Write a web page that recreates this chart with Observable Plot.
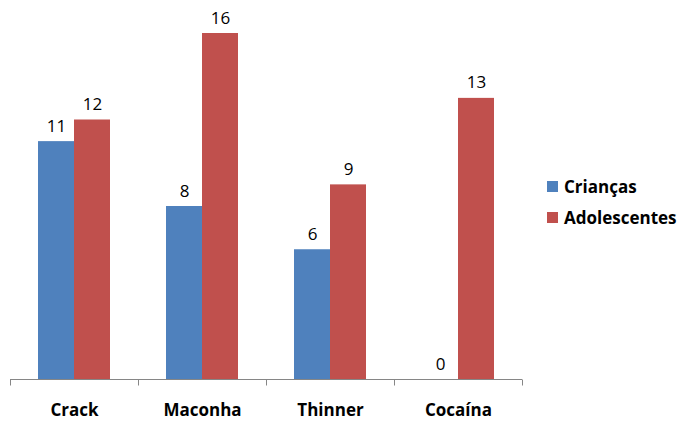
<!DOCTYPE html>
<html><head><meta charset="utf-8">
<script src="https://cdn.jsdelivr.net/npm/d3@7"></script>
<script src="https://cdn.jsdelivr.net/npm/@observablehq/plot@0.6"></script>
<style>
body{margin:0;background:#fff;font-family:"Open Sans",Lato,sans-serif;}
#wrap{position:relative;width:683px;height:421px;}
#legend{position:absolute;left:547px;top:171px;font-weight:bold;font-size:17px;color:#000;white-space:nowrap;}
#legend div{display:flex;align-items:center;height:31px;line-height:31px;}
#legend span.sw{display:inline-block;width:11px;height:11px;margin-right:6px;}
</style></head>
<body><div id="wrap"><div id="legend"></div></div>
<script>
const categories = ["Crack", "Maconha", "Thinner", "Cocaína"];
const series = ["Crianças", "Adolescentes"];
const criancas = [11, 8, 6, 0];
const adolescentes = [12, 16, 9, 13];
const colors = ["#4F81BD", "#C0504D"];

const data = [];
categories.forEach((c, i) => {
  data.push({cat: c, serie: series[0], value: criancas[i]});
  data.push({cat: c, serie: series[1], value: adolescentes[i]});
});

const chart = Plot.plot({
  width: 683, height: 421,
  marginLeft: 8, marginRight: 160, marginTop: 33, marginBottom: 42,
  style: {fontFamily: "'Open Sans', Lato, sans-serif", background: "#fff"},
  fx: {domain: categories, padding: 0, axis: null, label: null},
  x: {domain: series, paddingInner: 0, paddingOuter: 0.76, axis: null},
  y: {domain: [0, 16], axis: null},
  color: {domain: series, range: colors},
  marks: [
    Plot.barY(data, {fx: "cat", x: "serie", y: "value", fill: "serie"}),
    Plot.text(data, {fx: "cat", x: "serie", y: "value", text: d => String(d.value), lineAnchor: "bottom", dy: -10, fontSize: 17, fill: "#000"}),
    Plot.text(categories, {fx: d => d, text: d => d, frameAnchor: "bottom", lineAnchor: "bottom", dy: 36, fontSize: 17, fontWeight: "bold", fill: "#000"})
  ]
});
document.getElementById("wrap").prepend(chart);

// axis line and boundary ticks, from the plot's own scales
const fx = chart.scale("fx"), y = chart.scale("y");
const svg = d3.select(chart.tagName.toLowerCase() === "svg" ? chart : chart.querySelector("svg"));
const y0 = Math.round(y.apply(0)) + 0.5;
const edges = categories.map(c => fx.apply(c)).concat([fx.apply(categories[categories.length-1]) + fx.bandwidth]);
const g = svg.append("g").attr("stroke", "#868686").attr("stroke-width", 1);
g.append("line").attr("x1", edges[0]).attr("x2", edges[edges.length-1]).attr("y1", y0).attr("y2", y0);
edges.forEach(e => g.append("line").attr("x1", Math.round(e)+0.5).attr("x2", Math.round(e)+0.5).attr("y1", y0).attr("y2", y0+6));

const leg = d3.select("#legend");
series.forEach((s, i) => {
  const r = leg.append("div");
  r.append("span").attr("class", "sw").style("background", colors[i]);
  r.append("span").text(s);
});
</script>
</body></html>
